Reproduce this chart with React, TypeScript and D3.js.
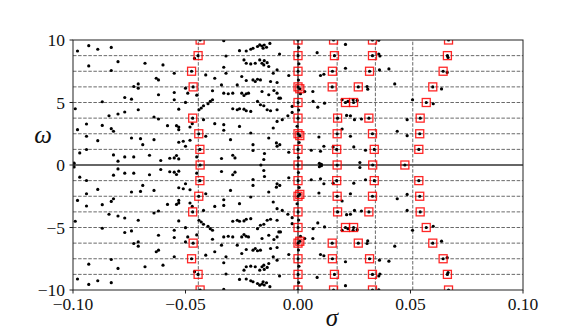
import * as d3 from "d3";

const W = 581;
const H = 332;
const MARGIN = { top: 40, right: 58, bottom: 42, left: 73 };

// axis ticks
const sigmaTicks = [-0.1, -0.05, 0, 0.05, 0.1];
const sigmaTickLabels = ["−0.10", "−0.05", "0.00", "0.05", "0.10"];
const omegaTicks = [-10, -5, 0, 5, 10];
const omegaTickLabels = ["−10", "−5", "0", "5", "10"];

// dashed guide lines
const gridOmega = [-8.75, -7.5, -6.25, -5, -3.75, -2.5, -1.25, 1.25, 2.5, 3.75, 5, 6.25, 7.5, 8.75];
const guideSigma = [-0.0443, 0.0174, 0.0344, 0.051];

// eigenvalues with omega > 0 (each one drawn with its conjugate)
const upperDots: [number, number][] = [
  [-0.098, 9.12], [-0.093, 9.55], [-0.089, 9.26], [-0.083, 9.41], [-0.033, 9.95], [-0.032, 8.72],
  [-0.026, 9.15], [-0.023, 9.12], [-0.021, 9.26], [-0.02, 9.34], [-0.018, 9.48], [-0.017, 9.61],
  [-0.093, 7.93], [-0.083, 7.56], [-0.08, 8.27], [-0.068, 8.14], [-0.06, 8.01], [-0.055, 7.34],
  [-0.046, 8.53], [-0.041, 7.21], [-0.033, 7.82], [-0.032, 7.34], [-0.024, 8.41], [-0.023, 8.14],
  [-0.021, 8.09], [-0.019, 8.14], [-0.017, 8.41],
  [-0.063, 6.94], [-0.062, 6.81], [-0.073, 6.28], [-0.071, 6.49], [-0.071, 6.15], [-0.062, 5.62],
  [-0.055, 5.8], [-0.05, 6.15], [-0.049, 5.75], [-0.045, 5.59], [-0.037, 6.94], [-0.038, 5.94],
  [-0.034, 6.41], [-0.029, 5.75], [-0.027, 6.41], [-0.025, 7.08], [-0.023, 6.76], [-0.02, 6.81],
  [-0.018, 6.86], [-0.019, 6.68], [-0.025, 5.75], [-0.023, 5.7], [-0.022, 5.75], [-0.024, 5.56],
  [-0.077, 5.4], [-0.074, 5.27], [-0.087, 5.06], [-0.099, 4.5], [-0.084, 3.94], [-0.08, 4.08],
  [-0.077, 4.24], [-0.071, 4.42], [-0.064, 3.84], [-0.062, 3.68], [-0.055, 5.22], [-0.053, 4.47],
  [-0.05, 5.01], [-0.044, 4.42], [-0.043, 4.56], [-0.042, 4.74], [-0.04, 4.9], [-0.039, 5.09],
  [-0.038, 5.22], [-0.033, 5.75], [-0.031, 5.7], [-0.029, 4.5], [-0.027, 4.42], [-0.026, 4.5],
  [-0.024, 4.47], [-0.023, 4.34], [-0.021, 4.29],
  [-0.098, 2.83], [-0.094, 3.28], [-0.094, 2.3], [-0.089, 1.95], [-0.087, 3.17], [-0.083, 2.91],
  [-0.082, 2.7], [-0.074, 2.16], [-0.07, 2.11], [-0.069, 1.63], [-0.064, 2.03], [-0.058, 3.15],
  [-0.054, 3.15], [-0.053, 3.04], [-0.053, 2.83], [-0.048, 3.04], [-0.047, 3.31], [-0.053, 1.82],
  [-0.051, 1.9], [-0.05, 1.5], [-0.048, 1.98], [-0.042, 3.63], [-0.041, 2.3], [-0.037, 3.31],
  [-0.033, 3.23], [-0.033, 2.78], [-0.03, 2.03], [-0.026, 3.09], [-0.021, 2.56], [-0.02, 1.63],
  [-0.097, 0.97], [-0.094, 1.24], [-0.082, 0.81], [-0.08, 0.31], [-0.077, 0.65], [-0.073, 0.65],
  [-0.066, 0.78], [-0.061, 0.36], [-0.057, 0.54], [-0.055, 0.57], [-0.054, 0.76], [-0.053, 0.49],
  [-0.045, 0.65], [-0.034, 0.52], [-0.029, 0.78], [-0.028, 0.57], [-0.02, 1.16], [-0.0995, 0.15],
  [-0.016, 9.52], [-0.015, 9.6], [-0.014, 9.42], [-0.0125, 9.73], [-0.0155, 9.34], [-0.0082, 8.88],
  [0.0085, 8.99], [0.0211, 9.65], [0.0359, 9.98],
  [-0.016, 8.14], [-0.015, 8.35], [-0.0137, 8.19], [-0.0152, 8.01], [-0.013, 7.88],
  [-0.0167, 6.81], [-0.0122, 6.68], [-0.0093, 6.6], [-0.011, 7.34], [-0.0093, 7.61], [-0.0041, 7.16],
  [0.01, 7.16], [0.0115, 7.26], [0.0211, 7.74], [0.0362, 7.61], [0.0404, 7.69],
  [-0.0107, 5.96], [0.003, 5.88], [0.0066, 5.88], [0.0307, 6.28], [0.043, 6.49], [0.031, 6.07],
  [-0.0167, 4.82], [-0.0152, 4.74], [-0.0085, 5.35], [-0.0026, 4.69], [0.0067, 5.09], [0.0088, 4.63],
  [0.0118, 4.95], [-0.0093, 5.75], [-0.013, 5.62], [-0.016, 5.88], [-0.018, 5.09], [-0.0078, 5.35],
  [-0.0137, 4.42], [-0.0122, 4.34], [-0.0093, 4.42],
  [-0.0093, 3.49], [-0.011, 2.96], [-0.007, 3.63], [-0.0045, 3.94], [-0.0026, 4.21], [0.0216, 3.97],
  [0.0233, 3.94], [0.0251, 3.63], [0.0282, 3.68], [0.0485, 3.63], [0.0196, 2.88],
  [-0.013, 2.16], [0.0093, 2.24], [0.0233, 2.3], [0.0441, 2.7], [0.0485, 2.35],
  [-0.0081, 1.63], [-0.0041, 1.02], [0.0059, 1.18], [0.01, 1.1], [0.0115, 1.5], [0.0156, 1.45],
  [0.0248, 1.45], [0.03, 1.18], [-0.0096, 1.77], [-0.0093, 1.5],
  [-0.0149, 0.92], [-0.0152, 0.44], [0.0095, 0.14], [0.0104, 0.06], [0.0275, 0.2],
  [0.0509, 5.22], [0.0601, 4.9], [0.0638, 6.09], [0.0663, 7.4], [0.0667, 8.6],
  [0.0359, 8.88], [0.0364, 8.72], [0.0196, 5.22], [0.0222, 5.09], [0.0245, 5.22], [0.0263, 5.17],
  [0.0003, 9.4], [0.0004, 8.1], [0.0002, 6.8], [0.0011, 5.7], [0.0003, 4.4], [-0.0004, 3.1],
  [0.0005, 1.8], [0.0002, 0.6],
];

// eigenvalues on the real axis
const realDots: [number, number][] = [
  [0.0099, 0], [-0.0165, 0],
];

// marked eigenvalues with omega >= 0 (conjugates drawn too)
const markedUpper: [number, number][] = [
  [-0.0435, 10], [0, 10], [0.0158, 10], [0.0331, 10], [0.0669, 10],
  [-0.0444, 8.75], [0, 8.75], [0.0162, 8.75], [0.0331, 8.75], [0.0664, 8.75],
  [-0.0473, 7.5], [0, 7.5], [0.0153, 7.5], [0.0318, 7.5], [0.0645, 7.5],
  [-0.0466, 6.25], [0, 6.25], [0.0008, 6.1], [0.0152, 6.25], [0.0268, 6.25], [0.0599, 6.25],
  [0, 5], [0.0211, 5], [0.0247, 5], [0.057, 5],
  [-0.0468, 3.75], [0, 3.75], [0.0176, 3.75], [0.0315, 3.75], [0.0543, 3.75],
  [-0.0441, 2.5], [0, 2.5], [0.0008, 2.35], [0.0174, 2.5], [0.0331, 2.5], [0.0541, 2.5],
  [-0.0436, 1.25], [0, 1.25], [0.0172, 1.25], [0.0339, 1.25], [0.0537, 1.25],
];
const markedReal: [number, number][] = [
  [-0.0435, 0], [0, 0], [0.0174, 0], [0.0332, 0], [0.0475, 0],
];

const withConjugates = (pts: [number, number][]) =>
  pts.flatMap(([s, w]) => (w === 0 ? [[s, w]] : [[s, w], [s, -w]]));

const dots = withConjugates(upperDots).concat(realDots);
const marked = withConjugates(markedUpper).concat(markedReal);

const FONT = "'Liberation Serif', 'DejaVu Serif', serif";

export default function App() {
  const x = d3.scaleLinear().domain([-0.1, 0.1]).range([MARGIN.left, W - MARGIN.right]);
  const y = d3.scaleLinear().domain([-10, 10]).range([H - MARGIN.bottom, MARGIN.top]);
  const [x0, x1] = x.range();
  const [y0, y1] = y.range();

  return (
    <svg
      width={W}
      height={H}
      style={{ position: "absolute", left: 0, top: 0, background: "#fff" }}
      fontFamily={FONT}
    >
      <defs>
        <clipPath id="plot">
          <rect x={x0} y={y1} width={x1 - x0} height={y0 - y1} />
        </clipPath>
      </defs>
      <g clipPath="url(#plot)">
        {gridOmega.map((w) => (
          <line key={"h" + w} x1={x0} x2={x1} y1={y(w)} y2={y(w)}
            stroke="#444" strokeWidth={0.8} strokeDasharray="3.5,1.6" />
        ))}
        {guideSigma.map((s) => (
          <line key={"v" + s} x1={x(s)} x2={x(s)} y1={y0} y2={y1}
            stroke="#444" strokeWidth={0.8} strokeDasharray="3.5,1.6" />
        ))}
        <line x1={x0} x2={x1} y1={y(0)} y2={y(0)} stroke="#666" strokeWidth={2} />
        <line x1={x(0)} x2={x(0)} y1={y0} y2={y1} stroke="#222" strokeWidth={1.3} />
        {dots.map(([s, w], i) => (
          <circle key={"d" + i} cx={x(s)} cy={y(w)} r={1.6} fill="#000" />
        ))}
        {marked.map(([s, w], i) => (
          <circle key={"md" + i} cx={x(s)} cy={y(w)} r={1.6} fill="#000" />
        ))}
        {marked.map(([s, w], i) => (
          <rect key={"m" + i} x={x(s) - 4} y={y(w) - 4} width={8} height={8}
            fill="none" stroke="#ff0000" strokeOpacity={0.85} strokeWidth={1.3} />
        ))}
      </g>
      <rect x={x0} y={y1} width={x1 - x0} height={y0 - y1} fill="none" stroke="#222" strokeWidth={1} />

      {sigmaTicks.map((t, i) => (
        <g key={"xt" + t}>
          <line x1={x(t)} x2={x(t)} y1={y0} y2={y0 + 3.5} stroke="#222" strokeWidth={1} />
          <text x={x(t)} y={y0 + 20} textAnchor="middle" fontSize={17.5} fill="#111">
            {sigmaTickLabels[i]}
          </text>
        </g>
      ))}
      {omegaTicks.map((t, i) => (
        <g key={"yt" + t}>
          <line x1={x0 - 3.5} x2={x0} y1={y(t)} y2={y(t)} stroke="#222" strokeWidth={1} />
          <text x={x0 - 8} y={y(t) + 6} textAnchor="end" fontSize={17.5} fill="#111">
            {omegaTickLabels[i]}
          </text>
        </g>
      ))}

      <text x={332} y={326} textAnchor="middle" fontSize={25} fontStyle="italic" fill="#111">σ</text>
      <text x={43} y={143} textAnchor="middle" fontSize={25} fontStyle="italic" fill="#111">ω</text>
    </svg>
  );
}
